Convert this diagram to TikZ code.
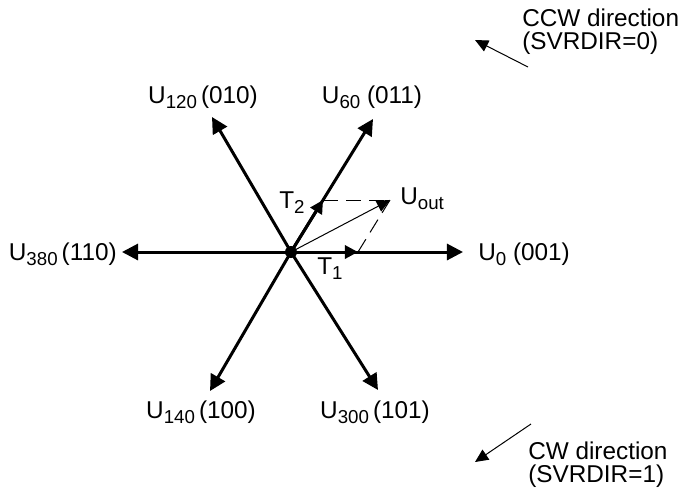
\documentclass[tikz,border=0pt]{standalone}
\usepackage{fontspec}
\setmainfont{Liberation Sans}
\usetikzlibrary{arrows.meta, positioning}

\newcommand{\idx}[1]{\raisebox{-0.4ex}{\fontsize{13.3pt}{13.3pt}\selectfont #1}}

\begin{document}
\begin{tikzpicture}[
    x=0.025cm, y=-0.025cm,
    dot/.style={circle, fill=black, inner sep=0pt, minimum size=0.3cm},
    vecarr/.style={-{Triangle[length=0.4cm, width=0.4cm]}, line width=0.075cm},
    partarr/.style={-{Triangle[length=0.33cm, width=0.33cm]}, line width=0.075cm},
    slimarr/.style={-{Triangle[length=0.33cm, width=0.3cm]}, line width=0.025cm},
    helper/.style={line width=0.025cm, dash pattern=on 0.375cm off 0.2cm},
    lbl/.style={font=\fontsize{17.3pt}{16.4pt}\selectfont, inner sep=0pt},
]
\useasboundingbox (0,0) rectangle (679,489);

% Origin of the hexagon
\node[dot] (o) at (291,252) {};

% Tips of the six base vectors
\coordinate (t0) at (463,252);
\coordinate (t60) at (373,119);
\coordinate (t120) at (212,117);
\coordinate (t180) at (122,252);
\coordinate (t240) at (210,391);
\coordinate (t300) at (378,390);

% Base vectors
\foreach \a in {0,60,120,180,240,300}
    \draw[vecarr] (o.center) -- (t\a);

% Labels of the base vectors
\node[lbl, anchor=base] (l120) at (203,103) {U\idx{120}\,(010)};
\node[lbl, anchor=base] (l60) at (372,103) {U\idx{60} (011)};
\node[lbl, anchor=base east] (l180) at (117,260) {U\idx{380}\,(110)};
\node[lbl, anchor=base west] (l0) at (478,260) {U\idx{0} (001)};
\node[lbl, anchor=base] (l240) at (201,418) {U\idx{140}\,(100)};
\node[lbl, anchor=base] (l300) at (375,418) {U\idx{300}\,(101)};

% Components T1, T2 and the output vector
\coordinate (tt1) at (358,252);
\coordinate (tt2) at (323,200);
\coordinate (tout) at (390,200);
\draw[partarr] (o.center) -- (tt1);
\draw[partarr] (o.center) -- (tt2);
\draw[slimarr] (o.center) -- (tout);
\draw[helper] (tt2) -- (tout);
\draw[helper] (tt1) -- (tout);

\node[lbl, anchor=base west] (lt2) at (279,208) {T\idx{2}};
\node[lbl, anchor=base west] (lt1) at (317,274) {T\idx{1}};
\node[lbl, anchor=base west] (lout) at (400,204) {U\idx{out}};

% Rotation direction notes
\node[lbl, anchor=north west, align=left] (ccw) at (522,9) {CCW direction\\(SVRDIR=0)};
\coordinate (ccwfrom) at (528,67);
\coordinate (ccwto) at (475,40);
\draw[slimarr] (ccwfrom) -- (ccwto);

\node[lbl, anchor=north west, align=left] (cw) at (528,442) {CW direction\\(SVRDIR=1)};
\coordinate (cwfrom) at (531,424);
\coordinate (cwto) at (475,462);
\draw[slimarr] (cwfrom) -- (cwto);

\end{tikzpicture}
\end{document}
